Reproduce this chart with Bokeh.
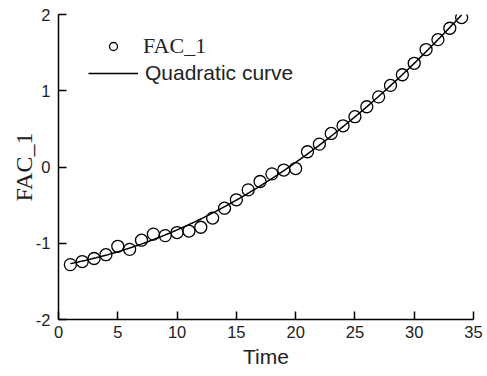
import numpy as np
from bokeh.plotting import figure
from bokeh.models import Range1d, Legend, LegendItem, FixedTicker
from bokeh.embed import file_html
from bokeh.resources import INLINE

# Data
time = [1, 2, 3, 4, 5, 6, 7, 8, 9, 10, 11, 12, 13, 14, 15, 16, 17,
        18, 19, 20, 21, 22, 23, 24, 25, 26, 27, 28, 29, 30, 31, 32, 33, 34]
fac_1 = [-1.28, -1.24, -1.20, -1.15, -1.04, -1.08, -0.96, -0.88, -0.90, -0.86,
         -0.84, -0.79, -0.67, -0.54, -0.43, -0.30, -0.19, -0.09, -0.04, -0.02,
         0.20, 0.30, 0.44, 0.54, 0.66, 0.79, 0.92, 1.07, 1.21, 1.36, 1.54,
         1.67, 1.82, 1.96]
x_ticks = [0, 5, 10, 15, 20, 25, 30, 35]
y_ticks = [-2, -1, 0, 1, 2]
y_tick_labels = ["-2", "-1", "0", "1", "2"]

# Quadratic fit of the observed series
coef = np.polyfit(time, fac_1, 2)
t_fit = np.linspace(min(time), max(time), 200)
y_fit = np.polyval(coef, t_fit)

p = figure(width=487, height=376, output_backend="svg", toolbar_location=None,
           x_range=Range1d(0, 35), y_range=Range1d(-2, 2),
           min_border_left=58, min_border_right=14, min_border_top=14,
           min_border_bottom=57)
p.outline_line_color = None
p.xgrid.visible = False
p.ygrid.visible = False
p.background_fill_color = "white"
p.border_fill_color = "white"

curve = p.line(t_fit, y_fit, line_color="black", line_width=1.5)
pts = p.scatter(time, fac_1, marker="circle", size=12, fill_color=None,
                line_color="black", line_width=1.3)

for ax in (p.xaxis[0], p.yaxis[0]):
    ax.axis_line_color = "black"
    ax.axis_line_width = 1.5
    ax.major_tick_line_color = "black"
    ax.major_tick_line_width = 1.5
    ax.major_tick_in = 8
    ax.major_tick_out = 0
    ax.minor_tick_line_color = None
    ax.major_label_text_font = "Liberation Sans"
    ax.major_label_text_font_size = "16.5px"
    ax.major_label_text_color = "#222222"
    ax.axis_label_text_font_style = "normal"
    ax.axis_label_text_color = "#222222"

p.xaxis[0].ticker = FixedTicker(ticks=x_ticks)
p.yaxis[0].ticker = FixedTicker(ticks=y_ticks)
p.yaxis[0].major_label_overrides = {t: s for t, s in zip(y_ticks, y_tick_labels)}
p.xaxis[0].major_label_standoff = 6
p.yaxis[0].major_label_standoff = 8

p.xaxis[0].axis_label = "Time"
p.xaxis[0].axis_label_text_font = "Liberation Sans"
p.xaxis[0].axis_label_text_font_size = "21px"
p.xaxis[0].axis_label_standoff = 4

p.yaxis[0].axis_label = "FAC_1"
p.yaxis[0].axis_label_text_font = "Liberation Serif"
p.yaxis[0].axis_label_text_font_size = "24px"
p.yaxis[0].axis_label_standoff = -4

leg1 = Legend(items=[LegendItem(label="FAC_1", renderers=[pts])],
              location=(45, 260), padding=0, margin=0, spacing=0,
              glyph_width=20, glyph_height=20, label_standoff=20,
              label_text_font="Liberation Serif", label_text_font_size="22px",
              label_text_color="#222222",
              background_fill_alpha=0, border_line_alpha=0)
leg2 = Legend(items=[LegendItem(label="Quadratic curve", renderers=[curve])],
              location=(30, 234), padding=0, margin=0, spacing=0,
              glyph_width=50, glyph_height=20, label_standoff=7,
              label_text_font="Liberation Sans", label_text_font_size="21px",
              label_text_color="#222222",
              background_fill_alpha=0, border_line_alpha=0)
p.add_layout(leg1, "center")
p.add_layout(leg2, "center")

open("out.html", "w").write(file_html(p, INLINE))
